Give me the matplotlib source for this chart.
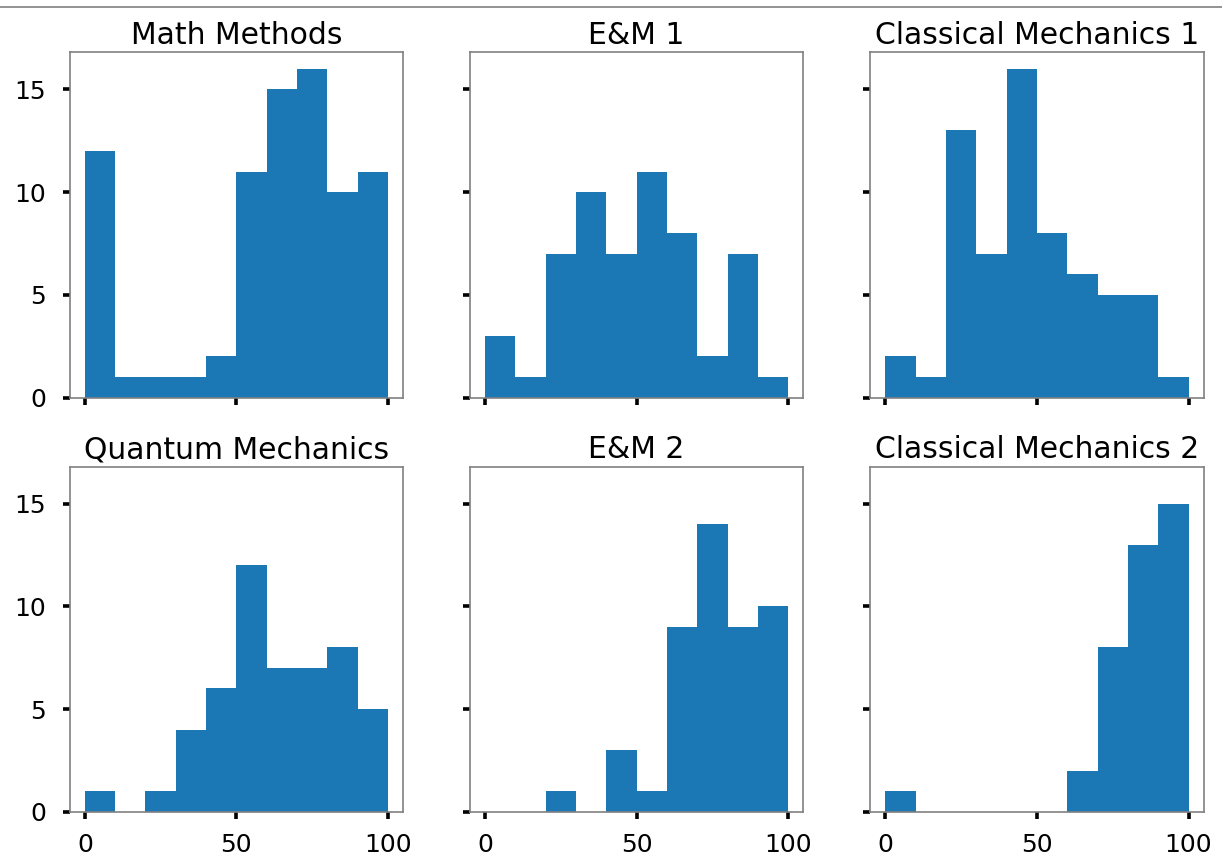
import matplotlib
matplotlib.use("Agg")
import matplotlib.pyplot as plt
import numpy as np
from matplotlib.lines import Line2D

titles = ["Math Methods", "E&M 1", "Classical Mechanics 1",
          "Quantum Mechanics", "E&M 2", "Classical Mechanics 2"]
bin_edges = [0, 10, 20, 30, 40, 50, 60, 70, 80, 90, 100]
math_methods = [12, 1, 1, 1, 2, 11, 15, 16, 10, 11]
em1 = [3, 1, 7, 10, 7, 11, 8, 2, 7, 1]
classical1 = [2, 1, 13, 7, 16, 8, 6, 5, 5, 1]
quantum = [1, 0, 1, 4, 6, 12, 7, 7, 8, 5]
em2 = [0, 0, 1, 0, 3, 1, 9, 14, 9, 10]
classical2 = [1, 0, 0, 0, 0, 0, 2, 8, 13, 15]
series = [math_methods, em1, classical1, quantum, em2, classical2]

fig, axes = plt.subplots(2, 3, figsize=(12.22, 8.59), dpi=100, sharex=True, sharey=True)
fig.subplots_adjust(left=0.057, right=0.985, top=0.939, bottom=0.055, wspace=0.2, hspace=0.2)

edges = np.array(bin_edges, dtype=float)
centers = (edges[:-1] + edges[1:]) / 2
for ax, title, counts in zip(axes.flat, titles, series):
    ax.hist(centers, bins=edges, weights=counts, color="#1c77b5")
    ax.set_title(title, fontsize=21.5, pad=6)
    for s in ax.spines.values():
        s.set_color("#808080")
        s.set_linewidth(1.2)
    ax.tick_params(axis="both", labelsize=18, length=5, width=2.6, color="black")
    ax.tick_params(axis="x", pad=10.5)
    ax.tick_params(axis="y", pad=12)
    ax.set_xticks([0, 50, 100])
    ax.set_yticks([0, 5, 10, 15])

fig.add_artist(Line2D([0, 1], [0.992, 0.992], transform=fig.transFigure, color="#808080", linewidth=1.2))
fig.savefig("out.png", dpi=100)
